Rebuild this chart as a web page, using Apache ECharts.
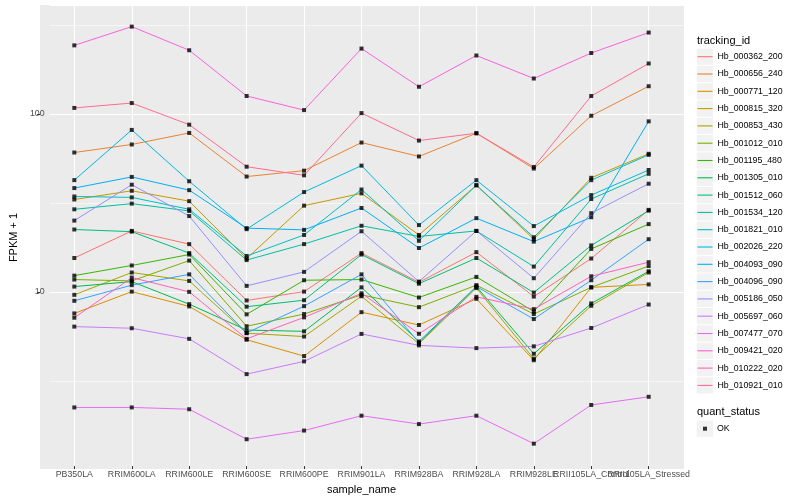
<!DOCTYPE html>
<html><head><meta charset="utf-8">
<script src="https://cdn.jsdelivr.net/npm/echarts@6/dist/echarts.min.js"></script>
<style>html,body{margin:0;padding:0;background:#fff}#c{width:800px;height:500px}</style>
</head><body><div id="c"></div>
<script>
// ---- data ----
const categories = ['PB350LA','RRIM600LA','RRIM600LE','RRIM600SE','RRIM600PE','RRIM901LA','RRIM928BA','RRIM928LA','RRIM928LE','RRII105LA_Control','RRII105LA_Stressed'];

const Hb_000362_200 = [15.1, 21.5, 18.1, 8.68, 9.74, 16.1, 11.0, 16.3, 9.13, 15.0, 28.3];
const Hb_000656_240 = [59.8, 66.4, 77.2, 43.7, 47.2, 68.1, 56.8, 76.9, 48.5, 96.6, 142];
const Hb_000771_120 = [7.33, 9.74, 8.03, 5.2, 4.2, 7.45, 6.3, 8.87, 3.98, 10.3, 10.7];
const Hb_000815_320 = [32.4, 36.3, 31.7, 15.0, 29.9, 35.1, 20.4, 39.0, 19.3, 43.0, 58.8];
const Hb_000853_430 = [9.34, 12.5, 11.2, 5.66, 5.42, 9.17, 4.93, 10.2, 4.06, 8.1, 12.5];
const Hb_001012_010 = [11.4, 11.2, 14.6, 6.2, 7.27, 9.34, 7.95, 10.6, 7.27, 10.3, 13.6];
const Hb_001195_480 = [12.0, 13.7, 15.8, 7.24, 11.3, 11.4, 9.02, 11.8, 7.52, 17.0, 23.5];
const Hb_001305_010 = [10.4, 11.1, 8.27, 5.9, 5.8, 10.3, 5.08, 10.4, 4.33, 8.35, 12.7];
const Hb_001512_060 = [21.9, 21.3, 16.1, 8.0, 8.71, 15.8, 10.8, 15.1, 9.62, 17.8, 28.0];
const Hb_001534_120 = [28.5, 30.7, 27.9, 14.7, 18.1, 23.0, 20.0, 21.5, 13.5, 32.6, 45.3];
const Hb_001821_010 = [33.7, 33.3, 28.5, 15.5, 20.4, 36.9, 18.9, 39.0, 19.8, 41.7, 58.0];
const Hb_002026_220 = [41.7, 80.3, 41.1, 22.0, 35.7, 50.4, 23.2, 41.7, 22.9, 34.3, 47.6];
const Hb_004093_090 = [37.6, 43.5, 36.6, 22.3, 21.8, 29.0, 17.2, 25.4, 18.7, 25.7, 89.8];
const Hb_004096_090 = [8.64, 10.6, 12.2, 5.68, 8.06, 12.2, 5.0, 10.4, 6.81, 11.3, 19.3];
const Hb_005186_050 = [24.6, 39.3, 26.1, 10.5, 12.6, 21.4, 11.1, 21.5, 11.6, 27.1, 39.8];
const Hb_005697_060 = [6.17, 6.04, 5.26, 3.32, 3.92, 5.61, 4.83, 4.66, 4.77, 6.06, 8.23];
const Hb_007477_070 = [2.15, 2.15, 2.10, 1.42, 1.59, 1.93, 1.73, 1.93, 1.34, 2.22, 2.47];
const Hb_009421_020 = [242, 309, 227, 125, 104, 232, 141, 212, 157, 219, 286];
const Hb_010222_020 = [6.93, 11.7, 9.71, 5.26, 6.96, 9.53, 5.62, 9.1, 7.75, 11.9, 14.3];
const Hb_010921_010 = [107, 114, 86, 49.7, 44.4, 100, 69.9, 76.9, 49.5, 125, 191];

const trackingIds = ['Hb_000362_200','Hb_000656_240','Hb_000771_120','Hb_000815_320','Hb_000853_430','Hb_001012_010','Hb_001195_480','Hb_001305_010','Hb_001512_060','Hb_001534_120','Hb_001821_010','Hb_002026_220','Hb_004093_090','Hb_004096_090','Hb_005186_050','Hb_005697_060','Hb_007477_070','Hb_009421_020','Hb_010222_020','Hb_010921_010'];
const seriesValues = [Hb_000362_200,Hb_000656_240,Hb_000771_120,Hb_000815_320,Hb_000853_430,Hb_001012_010,Hb_001195_480,Hb_001305_010,Hb_001512_060,Hb_001534_120,Hb_001821_010,Hb_002026_220,Hb_004093_090,Hb_004096_090,Hb_005186_050,Hb_005697_060,Hb_007477_070,Hb_009421_020,Hb_010222_020,Hb_010921_010];
const quantStatus = ['OK'];

const yMajorBreaks = [10, 100];
const yMinorBreaks = [3.1623, 31.623, 316.23];
const yLimits = [1, 409.7];

// ---- style ----
const palette = ['#F8766D','#EA8331','#D89000','#C09B00','#A3A500','#7CAE00','#39B600','#00BB4E','#00BF7D','#00C1A3','#00BFC4','#00BAE0','#00B0F6','#35A2FF','#9590FF','#C77CFF','#E76BF3','#FA62DB','#FF62BC','#FF6C91'];
const FONT = 'Liberation Sans';
const panel = {x: 40, y: 5, w: 644, h: 464};
const legTop = 56.7, legRow = 17.3;

const chart = echarts.init(document.getElementById('c'), null, {renderer: 'canvas'});

const lineSeries = trackingIds.map((id, i) => ({
  name: id, type: 'line', xAxisIndex: 1, yAxisIndex: 1,
  data: seriesValues[i], color: palette[i],
  showSymbol: false, symbol: 'none', silent: true, z: 2,
  lineStyle: {width: 1, color: palette[i]}
}));

const points = [];
seriesValues.forEach(arr => arr.forEach((v, ci) => points.push([ci, v])));

const graphics = [{type: 'rect', shape: {x: panel.x, y: panel.y, width: panel.w, height: panel.h}, style: {fill: '#EBEBEB'}, z: -100, silent: true}];
graphics.push({type: 'text', x: 697, y: 40.7, silent: true, style: {text: 'tracking_id', font: '11px ' + FONT, fill: '#000', verticalAlign: 'middle'}});
graphics.push({type: 'text', x: 697, y: 412, silent: true, style: {text: 'quant_status', font: '11px ' + FONT, fill: '#000', verticalAlign: 'middle'}});
for (let i = 0; i < trackingIds.length; i++) {
  graphics.push({type: 'rect', shape: {x: 696.7, y: legTop + i * legRow - 8.15, width: 16.3, height: 16.3}, style: {fill: '#F2F2F2'}, z: -50, silent: true});
}
graphics.push({type: 'rect', shape: {x: 696.7, y: 428.7 - 8.15, width: 16.3, height: 16.3}, style: {fill: '#F2F2F2'}, z: -50, silent: true});

const isMajor = v => yMajorBreaks.some(b => Math.abs(v - b) < 1e-6 * b);

const option = {
  animation: false,
  textStyle: {fontFamily: FONT},
  graphic: {elements: graphics},
  grid: [
    {left: 40, top: 5, width: 644, height: 465},
    {left: 45.6, top: 5, width: 631.8, height: 465},
    {left: 37.2, top: 5, width: 2.8, height: 465}
  ],
  xAxis: [
    {gridIndex: 0, type: 'value', min: 0, max: 1, show: false},
    {gridIndex: 1, type: 'category', data: categories, boundaryGap: true,
     axisLine: {show: false},
     axisTick: {show: true, alignWithLabel: true, length: 3, lineStyle: {color: '#333333', width: 1}},
     axisLabel: {interval: 0, hideOverlap: false, color: '#4D4D4D', fontSize: 8.8, margin: 4, fontFamily: FONT},
     splitLine: {show: true, alignWithLabel: true, lineStyle: {color: '#FFFFFF', width: 1.1}},
     name: 'sample_name', nameLocation: 'middle', nameGap: 13,
     nameTextStyle: {color: '#000', fontSize: 11, fontFamily: FONT}},
    {gridIndex: 2, type: 'value', min: 0, max: 1, show: false}
  ],
  yAxis: [
    {gridIndex: 0, type: 'log', logBase: 10, min: yLimits[0], max: yLimits[1],
     axisLine: {show: false},
     axisTick: {show: false},
     axisLabel: {color: '#4D4D4D', fontSize: 8.8, margin: 5, fontFamily: FONT,
                 showMinLabel: false, showMaxLabel: false,
                 formatter: v => isMajor(v) ? String(Math.round(v)) : ''},
     splitLine: {show: true, lineStyle: {color: '#FFFFFF', width: 1.1}},
     name: 'FPKM + 1', nameLocation: 'middle', nameGap: 22,
     nameTextStyle: {color: '#000', fontSize: 11, fontFamily: FONT}},
    {gridIndex: 1, type: 'log', logBase: 10, min: yLimits[0], max: yLimits[1], show: false},
    {gridIndex: 2, type: 'log', logBase: 10, min: yLimits[0], max: yLimits[1], show: false}
  ],
  legend: [
    {data: trackingIds, orient: 'vertical', left: 697.5, top: legTop - legRow / 2, padding: 0,
     itemGap: 0, itemWidth: 15, itemHeight: 1.1, icon: 'rect', selectedMode: false,
     textStyle: {fontSize: 8.8, color: '#000', lineHeight: legRow, fontFamily: FONT}},
    {data: quantStatus, orient: 'vertical', left: 703, top: 428.7 - legRow / 2, padding: 0,
     itemGap: 0, itemWidth: 4, itemHeight: 4, icon: 'rect', selectedMode: false,
     textStyle: {fontSize: 8.8, color: '#000', lineHeight: legRow, fontFamily: FONT, padding: [0, 0, 0, 5]}}
  ],
  series: [
    {type: 'line', name: '__minor', xAxisIndex: 0, yAxisIndex: 0, data: [], silent: true,
     markLine: {silent: true, symbol: ['none', 'none'], z: 1, animation: false,
                label: {show: false}, lineStyle: {color: '#FFFFFF', width: 0.55, type: 'solid'},
                data: yMinorBreaks.map(v => ({yAxis: v}))}},
    {type: 'line', name: '__yticks', xAxisIndex: 2, yAxisIndex: 2, data: [], silent: true,
     markLine: {silent: true, symbol: ['none', 'none'], z: 1, animation: false,
                label: {show: false}, lineStyle: {color: '#333333', width: 1, type: 'solid'},
                data: yMajorBreaks.map(v => ({yAxis: v}))}},
    ...lineSeries,
    {type: 'scatter', name: 'OK', xAxisIndex: 1, yAxisIndex: 1, data: points, silent: true,
     symbol: 'rect', symbolSize: 4, itemStyle: {color: '#000000'}, z: 3}
  ]
};
chart.setOption(option);
</script></body></html>
